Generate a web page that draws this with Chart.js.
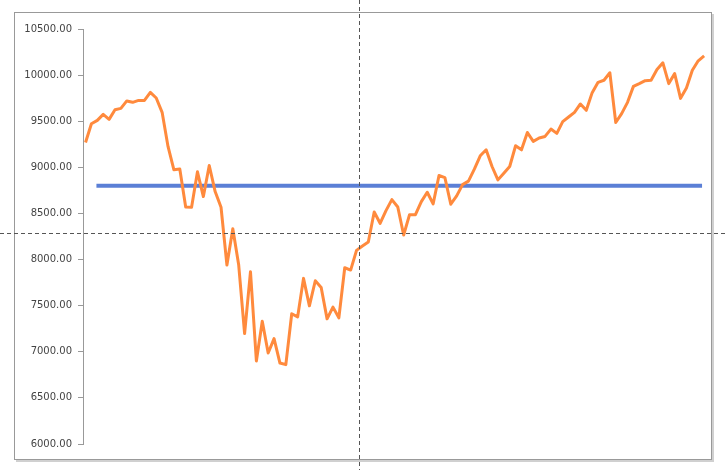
<!DOCTYPE html>
<html>
<head>
<meta charset="utf-8">
<script src="https://cdn.jsdelivr.net/npm/chart.js@4.4.1/dist/chart.umd.min.js"></script>
<style>
  html, body { margin: 0; padding: 0; background: #fff; }
  #wrap { position: relative; width: 727px; height: 470px; }
</style>
</head>
<body>
<div id="wrap"><canvas id="myChart"></canvas></div>
<script>
// index values, one per step
const values = [
  9270, 9473, 9509, 9574, 9520, 9625, 9639, 9720, 9705, 9726,
  9726, 9813, 9752, 9596, 9226, 8973, 8981, 8570, 8567, 8951,
  8683, 9020, 8737, 8567, 7940, 8335, 7940, 7198, 7868, 6900,
  7332, 6987, 7143, 6878, 6861, 7412, 7378, 7796, 7498, 7770,
  7698, 7357, 7484, 7368, 7911, 7886, 8100, 8147, 8190, 8516,
  8393, 8531, 8650, 8570, 8266, 8487, 8487, 8628, 8730, 8603,
  8911, 8889, 8600, 8690, 8813, 8850, 8980, 9125, 9190, 9009,
  8864, 8937, 9009, 9234, 9190, 9378, 9281, 9318, 9335, 9415,
  9368, 9495, 9546, 9596, 9687, 9618, 9810, 9922, 9944, 10026,
  9486, 9582, 9705, 9878, 9908, 9940, 9944, 10060, 10133, 9908,
  10016, 9748, 9861, 10052, 10155, 10209
];
// reference level (blue) and where it starts / ends, in steps
const refLevel = 8800;
const refFrom = 1.85;
const refTo = 104.65;
// cursor crosshair position (step, value)
const crossAt = [46.4, 8288];
const yTicks = [6000, 6500, 7000, 7500, 8000, 8500, 9000, 9500, 10000, 10500];

const frame = {
  id: 'frame',
  beforeDraw(chart) {
    const c = chart.ctx;
    c.save();
    c.strokeStyle = '#d0d0d0';
    c.lineWidth = 2;
    c.beginPath();
    c.moveTo(713, 14); c.lineTo(713, 461); c.lineTo(16, 461);
    c.stroke();
    c.strokeStyle = '#999';
    c.lineWidth = 1;
    c.strokeRect(14.5, 12.5, 697, 447);
    c.restore();
  },
  afterDraw(chart) {
    const c = chart.ctx;
    const px = Math.round(chart.scales.x.getPixelForValue(crossAt[0])) + 0.5;
    const py = Math.round(chart.scales.y.getPixelForValue(crossAt[1])) + 0.5;
    c.save();
    c.strokeStyle = '#555';
    c.lineWidth = 1;
    c.setLineDash([4, 3]);
    c.beginPath();
    c.moveTo(px, 0); c.lineTo(px, chart.height);
    c.moveTo(0, py); c.lineTo(chart.width, py);
    c.stroke();
    c.restore();
  }
};

const CHART = document.getElementById("myChart");
var myChart = new Chart(CHART, {
  type: 'line',
  data: {
    datasets: [
      {
        data: values.map((v, i) => ({ x: i, y: v })),
        borderColor: '#ff8a3d',
        borderWidth: 3,
        borderJoinStyle: 'round',
        pointRadius: 0,
        tension: 0
      },
      {
        data: [{ x: refFrom, y: refLevel }, { x: refTo, y: refLevel }],
        borderColor: '#5b7fd6',
        borderWidth: 4,
        pointRadius: 0,
        borderCapStyle: 'butt'
      }
    ]
  },
  options: {
    responsive: true,
    maintainAspectRatio: false,
    animation: false,
    layout: { padding: { top: 29, bottom: 26, left: 0, right: 17 } },
    plugins: { legend: { display: false }, tooltip: { enabled: false } },
    scales: {
      x: {
        type: 'linear',
        min: -0.43,
        max: 106,
        display: false
      },
      y: {
        min: 6000,
        max: 10500,
        afterFit(scale) { scale.width = 83; },
        afterBuildTicks(scale) { scale.ticks = yTicks.map(v => ({ value: v })); },
        border: { display: true, color: '#999', width: 1 },
        grid: { drawOnChartArea: false, drawTicks: true, tickLength: 5, color: '#999' },
        ticks: {
          padding: 6,
          color: '#444',
          font: { family: 'DejaVu Sans', size: 10 },
          callback: v => v.toFixed(2)
        }
      }
    }
  },
  plugins: [frame]
});
</script>
</body>
</html>
